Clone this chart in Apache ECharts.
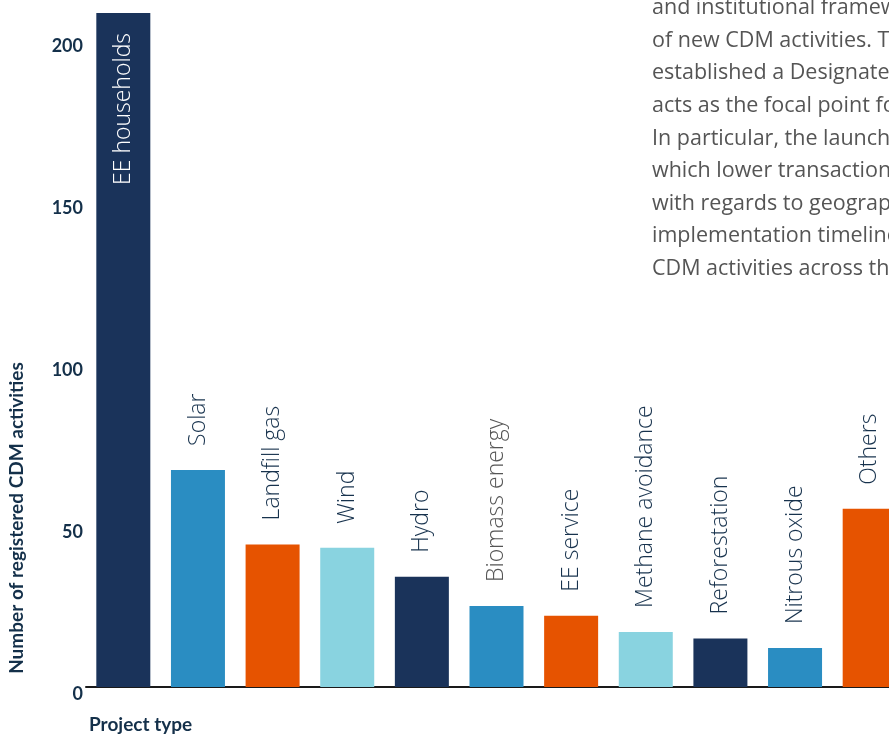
<!DOCTYPE html>
<html>
<head>
<meta charset="utf-8">
<script src="https://cdn.jsdelivr.net/npm/echarts@6/dist/echarts.min.js"></script>
<style>
  html, body { margin: 0; padding: 0; background: #ffffff; overflow: hidden; }
  #chart { width: 907px; height: 736px; }
</style>
</head>
<body>
<div id="chart"></div>
<script>
// ---- data ----
const categories = ['EE households', 'Solar', 'Landfill gas', 'Wind', 'Hydro', 'Biomass energy',
                    'EE service', 'Methane avoidance', 'Reforestation', 'Nitrous oxide', 'Others'];
const registeredActivities = [208, 67, 44, 43, 34, 25, 22, 17, 15, 12, 55];
const yTicks = [0, 50, 100, 150, 200];
const yAxisTitle = 'Number of registered CDM activities';
const xAxisTitle = 'Project type';
const paragraphLines = [
  'and institutional framework',
  'of new CDM activities. The',
  'established a Designated',
  'acts as the focal point for',
  'In particular, the launch of',
  'which lower transaction',
  'with regards to geographic',
  'implementation timelines',
  'CDM activities across the'
];

// ---- styles ----
const NAVY = '#1a335a', BLUE = '#2a8dc2', ORANGE = '#e65300', LIGHT = '#89d3e0';
const barColors = [NAVY, BLUE, ORANGE, LIGHT, NAVY, BLUE, ORANGE, LIGHT, NAVY, BLUE, ORANGE];
const labelColors = ['#ffffff', '#17324d', '#17324d', '#17324d', '#17324d', '#555555',
                     '#17324d', '#17324d', '#17324d', '#17324d', '#17324d'];
const BOLDFONT = 'Lato, "Open Sans", sans-serif';
const TEXTFONT = '"Open Sans", Lato, sans-serif';

const chart = echarts.init(document.getElementById('chart'), null, { renderer: 'canvas' });

const seriesData = registeredActivities.map((v, i) => {
  const inside = i === 0;
  return {
    value: v,
    itemStyle: { color: barColors[i] },
    label: inside ? {
      position: 'insideTop', rotate: 90, align: 'right', verticalAlign: 'middle',
      distance: 20, color: labelColors[i]
    } : {
      position: 'top', rotate: 90, align: 'left', verticalAlign: 'middle',
      distance: 24, color: labelColors[i]
    }
  };
});

const option = {
  animation: false,
  backgroundColor: '#ffffff',
  grid: { left: 86, right: 0, top: 0, bottom: 49, containLabel: false },
  xAxis: {
    type: 'category',
    data: categories,
    axisLine: { show: true, lineStyle: { color: '#1a1a1a', width: 2 } },
    axisTick: { show: false },
    axisLabel: { show: false },
    splitLine: { show: false }
  },
  yAxis: {
    type: 'value',
    min: yTicks[0],
    max: 212,
    interval: yTicks[1] - yTicks[0],
    axisLine: { show: false },
    axisTick: { show: false },
    splitLine: { show: false },
    axisLabel: {
      showMaxLabel: false,
      margin: 3,
      color: '#14304a',
      fontFamily: BOLDFONT,
      fontWeight: 'bold',
      fontSize: 18,
      verticalAlign: 'top',
      lineHeight: 14,
      formatter: v => (yTicks.indexOf(v) >= 0 ? String(v) : '')
    }
  },
  series: [{
    type: 'bar',
    data: seriesData,
    barWidth: 54,
    label: {
      show: true,
      formatter: p => categories[p.dataIndex],
      fontFamily: TEXTFONT,
      fontSize: 23,
      fontWeight: 300
    }
  }],
  graphic: [
    {
      type: 'text',
      x: 17, y: 518,
      rotation: Math.PI / 2,
      style: {
        text: yAxisTitle,
        fill: '#14304a',
        font: 'bold 19px ' + BOLDFONT,
        align: 'center',
        verticalAlign: 'middle'
      }
    },
    {
      type: 'text',
      x: 89, y: 725,
      style: {
        text: xAxisTitle,
        fill: '#14304a',
        font: 'bold 19px ' + BOLDFONT,
        align: 'left',
        verticalAlign: 'middle'
      }
    },
    {
      type: 'text',
      x: 652, y: -8.3,
      style: {
        text: paragraphLines.join('\n'),
        fill: '#555555',
        font: '21.5px ' + TEXTFONT,
        lineHeight: 32.6,
        align: 'left',
        verticalAlign: 'top'
      }
    }
  ]
};

chart.setOption(option);
</script>
</body>
</html>
